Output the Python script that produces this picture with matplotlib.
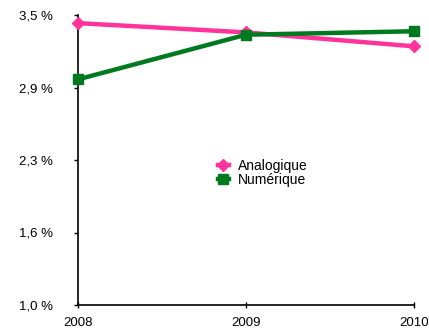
import matplotlib
matplotlib.use("Agg")
import matplotlib.pyplot as plt
import numpy as np

plt.rcParams['font.family'] = ['Liberation Sans', 'DejaVu Sans']

years = [2008, 2009, 2010]
analogique = [3.43, 3.35, 3.23]
numerique = [2.945, 3.33, 3.36]
yticks = [1.0, 1.625, 2.25, 2.875, 3.5]
ytick_labels = ['1,0 %', '1,6 %', '2,3 %', '2,9 %', '3,5 %']

fig = plt.figure(figsize=(4.29, 3.36), dpi=100)
ax = fig.add_axes([78/429, 1 - 305/336, (414 - 78)/429, (305 - 15)/336])

ax.plot(years, analogique, color='#ff3399', lw=3.2, marker='D', ms=6,
        label='Analogique', clip_on=False, zorder=3)
ax.plot(years, numerique, color='#007a1f', lw=3.2, marker='s', ms=6.5,
        label='Numérique', clip_on=False, zorder=3)

ax.set_xlim(2008, 2010)
ax.set_ylim(1.0, 3.5)
ax.set_xticks(years)
ax.set_xticklabels([str(y) for y in years])
ax.set_yticks(yticks)
ax.set_yticklabels(ytick_labels)
ax.tick_params(axis='both', labelsize=9.5, length=3, width=1, color='black')
ax.tick_params(axis='x', direction='inout', length=4, pad=7)
ax.tick_params(axis='y', pad=15)
for s in ['top', 'right']:
    ax.spines[s].set_visible(False)
for s in ['left', 'bottom']:
    ax.spines[s].set_linewidth(1.2)

ax.legend(loc='center', bbox_to_anchor=(0.55, 0.455), frameon=False,
          fontsize=10, handlelength=0.8, handletextpad=0.7,
          labelspacing=0.0, borderpad=0)

fig.savefig('out.png', dpi=100)
